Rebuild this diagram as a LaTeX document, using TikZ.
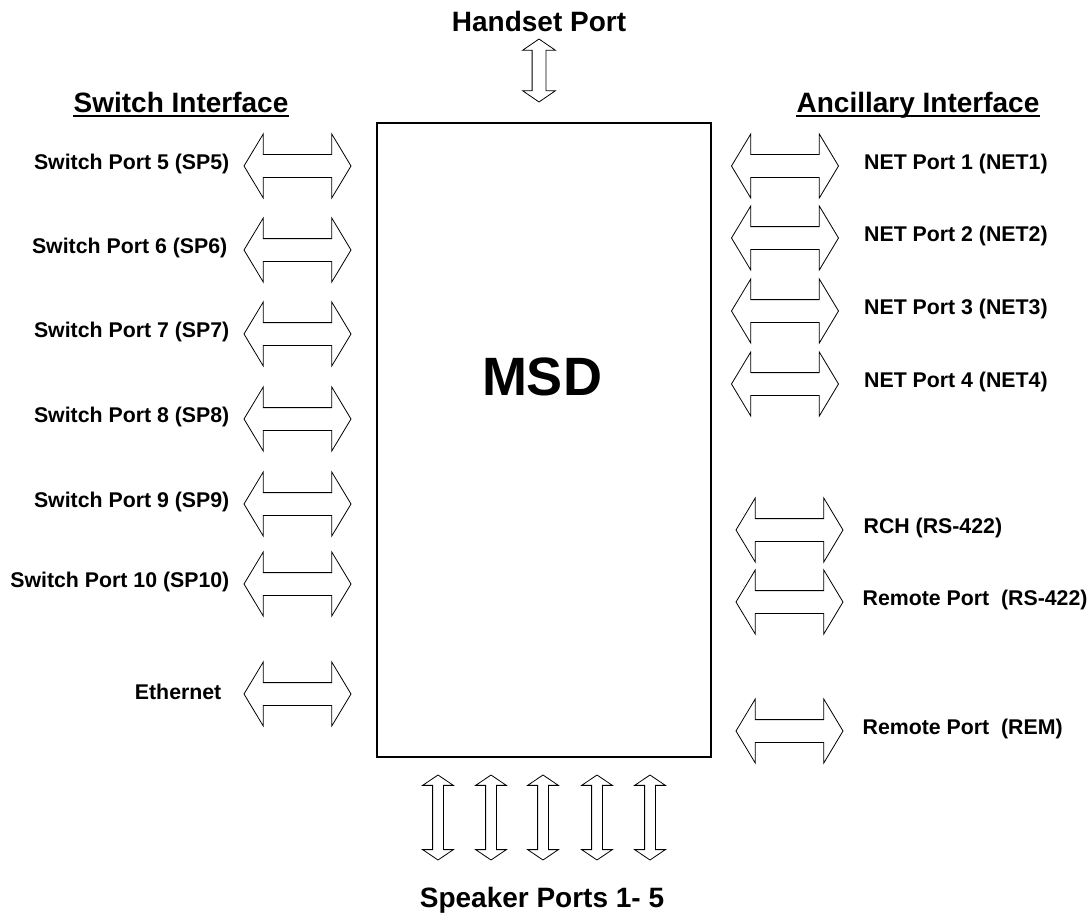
\documentclass[tikz,border=0pt]{standalone}
\usepackage{fontspec}
\setmainfont{Liberation Sans}
\usetikzlibrary{shapes.arrows, positioning}

\begin{document}
\begin{tikzpicture}[
  x=1pt, y=-1pt,
  box/.style={draw, line width=2.4pt, minimum width=334pt, minimum height=634pt,
              inner sep=0pt},
  harr/.style={draw, double arrow, double arrow tip angle=118, inner xsep=0pt,
               inner ysep=11pt, double arrow head extend=20.5pt,
               minimum height=107pt, line width=0.8pt},
  varr/.style={draw, double arrow, rotate=90, double arrow tip angle=112,
               inner xsep=0pt, inner ysep=5pt, double arrow head extend=10pt,
               minimum height=85pt, line width=0.8pt},
  lbl/.style={inner sep=0pt, yshift=2pt, font=\fontsize{21.3}{24}\selectfont\bfseries},
  hdr/.style={inner sep=0pt, font=\fontsize{28}{32}\selectfont\bfseries},
  uln/.style={line width=2pt}
]
  \useasboundingbox (0,0) rectangle (1087,915);

  \node[box] (msd) at (544,440) {};
  \node[inner sep=0pt, font=\fontsize{54}{60}\selectfont\bfseries] (title) at (542,377) {MSD};

  % handset
  \node[varr, minimum height=63pt, inner ysep=6.5pt, double arrow head extend=9.5pt,
        double arrow tip angle=111] (hs) at (539,70.5) {};
  \node[hdr, anchor=base] (hsl) at (539,32) {Handset Port};

  % switch interface
  \node[hdr, anchor=base] (swi) at (181,113) {Switch Interface};
  \draw[uln] ([yshift=-3pt]swi.base west) -- ([yshift=-3pt]swi.base east);
  \node[harr] (sp5)  at (297.5,166) {};
  \node[harr] (sp6)  at (297.5,250) {};
  \node[harr] (sp7)  at (297.5,334) {};
  \node[harr] (sp8)  at (297.5,419) {};
  \node[harr] (sp9)  at (297.5,504) {};
  \node[harr] (sp10) at (297.5,584) {};
  \node[harr] (eth)  at (297.5,694) {};
  \node[lbl, left=14pt of sp5]  (sp5l)  {Switch Port 5 (SP5)};
  \node[lbl, left=16pt of sp6]  (sp6l)  {Switch Port 6 (SP6)};
  \node[lbl, left=14pt of sp7]  (sp7l)  {Switch Port 7 (SP7)};
  \node[lbl, left=14pt of sp8]  (sp8l)  {Switch Port 8 (SP8)};
  \node[lbl, left=14pt of sp9]  (sp9l)  {Switch Port 9 (SP9)};
  \node[lbl, left=14pt of sp10] (sp10l) {Switch Port 10 (SP10)};
  \node[lbl, left=22pt of eth]  (ethl)  {Ethernet};

  % ancillary interface
  \node[hdr, anchor=base] (anc) at (918,113) {Ancillary Interface};
  \draw[uln] ([yshift=-3pt]anc.base west) -- ([yshift=-3pt]anc.base east);
  \node[harr] (net1) at (785,166) {};
  \node[harr] (net2) at (785,238) {};
  \node[harr] (net3) at (785,311) {};
  \node[harr] (net4) at (785,384) {};
  \node[harr] (rch)  at (789.5,530) {};
  \node[harr] (rem1) at (789.5,602) {};
  \node[harr] (rem2) at (789.5,731) {};
  \node[lbl, right=25pt of net1] (net1l) {NET Port 1 (NET1)};
  \node[lbl, right=25pt of net2] (net2l) {NET Port 2 (NET2)};
  \node[lbl, right=25pt of net3] (net3l) {NET Port 3 (NET3)};
  \node[lbl, right=25pt of net4] (net4l) {NET Port 4 (NET4)};
  \node[lbl, right=20pt of rch]  (rchl)  {RCH (RS-422)};
  \node[lbl, right=19pt of rem1] (rem1l) {Remote Port~~(RS-422)};
  \node[lbl, right=19pt of rem2] (rem2l) {Remote Port~~(REM)};

  % speaker ports
  \node[varr] (spk1) at (438,817.5) {};
  \node[varr] (spk2) at (491,817.5) {};
  \node[varr] (spk3) at (543,817.5) {};
  \node[varr] (spk4) at (597,817.5) {};
  \node[varr] (spk5) at (650,817.5) {};
  \node[hdr, anchor=base] (spkl) at (542,907) {Speaker Ports 1- 5};
\end{tikzpicture}
\end{document}
